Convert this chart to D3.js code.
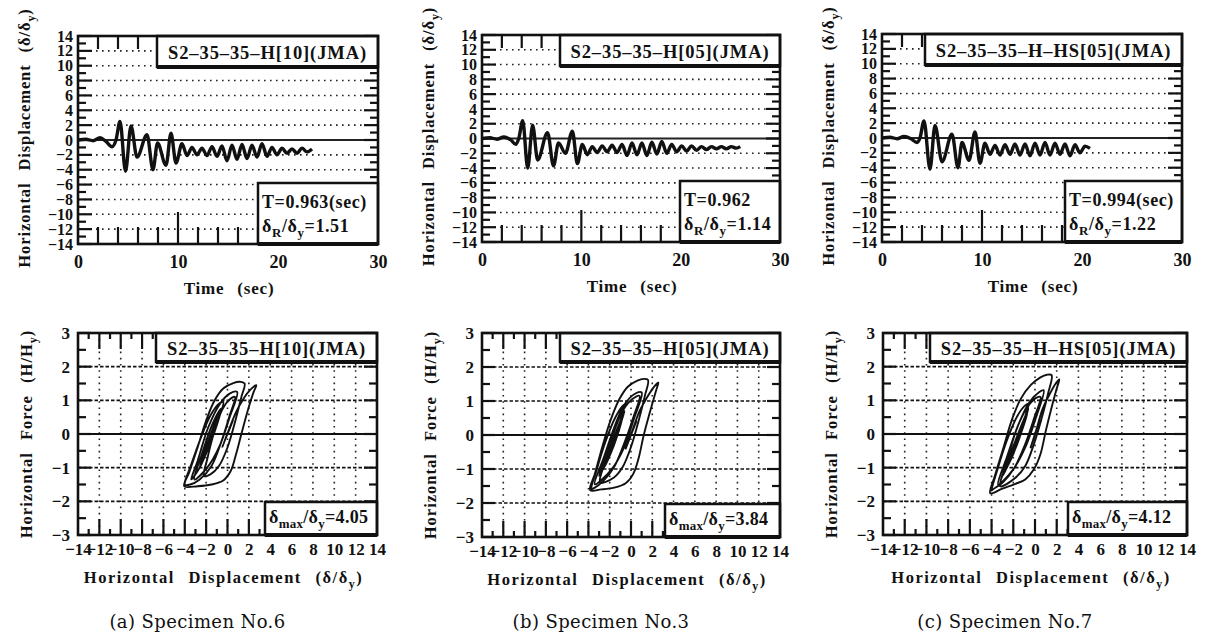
<!DOCTYPE html>
<html>
<head>
<meta charset="utf-8">
<script src="https://d3js.org/d3.v7.min.js"></script>
<style>
body{margin:0;background:#fff;}
svg{display:block;}
text{font-family:"Liberation Serif","Times New Roman",serif;font-weight:bold;fill:#111;}
.cap{font-family:"DejaVu Serif",serif;font-weight:normal;}
</style>
</head>
<body>
<svg width="1207" height="642"></svg>
<script>
// ---- data ----
const specimens = ["(a) Specimen No.6", "(b) Specimen No.3", "(c) Specimen No.7"];
const specimenIds = ["S2\u201335\u201335\u2013H[10](JMA)", "S2\u201335\u201335\u2013H[05](JMA)", "S2\u201335\u201335\u2013H\u2013HS[05](JMA)"];
const periods = ["0.963(sec)", "0.962", "0.994(sec)"];
const residual = ["1.51", "1.14", "1.22"];
const maxDisp = ["4.05", "3.84", "4.12"];

const dispTicks = [-14, -12, -10, -8, -6, -4, -2, 0, 2, 4, 6, 8, 10, 12, 14];
const timeTicks = [0, 10, 20, 30];
const forceTicks = [-3, -2, -1, 0, 1, 2, 3];

// time histories (peaks / troughs)
const timeA = [0, 0.8, 1.5, 2.2, 2.8, 3.4, 3.8, 4.2, 4.75, 5.3, 5.9, 6.9, 7.5, 7.95, 8.8, 9.3, 9.8, 10.4, 10.9, 11.4, 11.9, 12.4, 12.9, 13.4, 13.9, 14.4, 14.9, 15.4, 15.9, 16.4, 16.9, 17.4, 17.9, 18.4, 18.9, 19.4, 19.9, 20.4, 20.9, 21.4, 21.9, 22.4, 22.9, 23.4];
const respA = [0, 0.1, -0.1, 0.3, -0.2, -0.9, 0.0, 2.5, -4.2, 1.9, -2.3, 0.7, -4.0, -0.4, -3.4, 0.9, -3.1, -0.5, -2.1, -1.0, -2.0, -1.1, -2.1, -0.9, -2.2, -0.8, -2.8, -0.7, -2.6, -0.6, -2.5, -0.7, -2.3, -0.5, -2.2, -1.0, -2.0, -1.1, -1.8, -1.2, -1.8, -1.1, -1.6, -1.2];
const timeB = [0, 0.8, 1.5, 2.2, 2.9, 3.4, 3.7, 4.1, 4.6, 5.1, 5.6, 6.6, 7.2, 7.7, 8.4, 9.1, 9.6, 10.1, 10.6, 11.1, 11.6, 12.1, 12.6, 13.1, 13.6, 14.1, 14.6, 15.1, 15.6, 16.1, 16.6, 17.1, 17.6, 18.1, 18.6, 19.1, 19.6, 20.1, 20.6, 21.1, 21.6, 22.1, 22.6, 23.1, 23.6, 24.1, 24.6, 25.1, 25.6, 26.0];
const respB = [0, 0.1, -0.1, 0.2, -0.2, -0.8, 0.0, 2.4, -4.0, 1.8, -2.9, 0.8, -3.7, -0.6, -2.0, 1.0, -3.4, -0.8, -2.2, -1.1, -1.9, -1.0, -1.8, -0.9, -1.9, -0.8, -2.3, -0.6, -2.2, -0.6, -2.3, -0.5, -2.1, -0.4, -2.0, -0.8, -1.8, -1.0, -1.7, -1.0, -1.6, -1.1, -1.5, -1.1, -1.4, -1.1, -1.4, -1.1, -1.3, -1.1];
const timeC = [0, 0.8, 1.5, 2.2, 2.9, 3.5, 3.8, 4.2, 4.8, 5.3, 6.0, 7.0, 7.6, 8.0, 8.7, 9.3, 9.8, 10.3, 10.8, 11.3, 11.8, 12.3, 12.8, 13.3, 13.8, 14.3, 14.8, 15.3, 15.8, 16.3, 16.8, 17.3, 17.8, 18.3, 18.8, 19.3, 19.8, 20.3, 20.8];
const respC = [0, 0.1, -0.1, 0.2, -0.1, -0.6, 0.0, 2.3, -4.2, 1.7, -3.2, 0.5, -4.0, -0.6, -3.0, 0.8, -3.4, -0.7, -2.2, -1.0, -2.3, -0.9, -2.2, -0.8, -2.3, -0.8, -2.4, -0.7, -2.3, -0.6, -2.3, -0.7, -2.2, -0.8, -2.4, -0.9, -2.0, -1.1, -1.4];

// hysteresis traces [displacement, force]
const hystA = [[0,0],[0.5,0.4],[-0.5,-0.4],[0.1,0.1],
  [0.8,0.65],[1.5,1.05],[2.1,1.3],[2.5,1.42],[2.7,1.45],
  [2.45,1.25],[1.9,0.7],[1.3,0.0],[0.8,-0.6],[0.3,-1.1],[-0.4,-1.38],[-1.5,-1.5],[-2.8,-1.55],[-4.05,-1.55],
  [-3.6,-1.15],[-2.8,-0.4],[-2.0,0.4],[-1.2,1.0],[-0.4,1.35],[0.6,1.52],[1.2,1.55],[1.6,1.5],
  [1.3,1.1],[0.7,0.35],[0.0,-0.4],[-0.8,-0.95],[-1.6,-1.2],[-2.2,-1.25],
  [-1.9,-0.75],[-1.3,0.0],[-0.6,0.65],[0.1,1.0],[0.7,1.1],
  [0.2,0.55],[-0.6,-0.25],[-1.5,-0.95],[-2.6,-1.35],[-3.5,-1.5],[-4.0,-1.5],
  [-3.5,-1.0],[-2.6,-0.2],[-1.6,0.55],[-0.8,0.9],[-0.4,0.95],
  [-1.0,0.3],[-1.9,-0.5],[-2.7,-1.05],[-3.4,-1.35],
  [-2.8,-0.8],[-1.8,0.2],[-0.7,0.9],[0.2,1.2],[0.9,1.25],
  [0.2,0.5],[-0.8,-0.4],[-1.9,-1.0],[-3.1,-1.35],
  [-2.4,-0.6],[-1.4,0.3],[-0.6,0.75],
  [-1.4,-0.1],[-2.4,-0.85],
  [-1.6,-0.1],[-0.8,0.55],
  [-1.6,-0.25],[-2.3,-0.75],
  [-1.5,0.0],[-0.9,0.45],
  [-1.7,-0.35],[-2.6,-0.95],[-1.8,-0.2],[-0.7,0.7],
  [-1.5,-0.15],[-2.5,-0.9],[-1.6,-0.05],[-1.0,0.35],
  [-1.8,-0.4],[-2.2,-0.65],[-1.5,-0.1],[-1.1,0.2]];
const hystB = [[0,0],[0.5,0.4],[-0.5,-0.4],[0.1,0.1],
  [0.8,0.7],[1.5,1.1],[2.0,1.35],[2.4,1.5],[2.57,1.54],
  [2.35,1.3],[1.8,0.7],[1.2,0.0],[0.7,-0.7],[0.2,-1.15],[-0.5,-1.42],[-1.6,-1.55],[-2.8,-1.6],[-3.84,-1.62],
  [-3.4,-1.15],[-2.7,-0.35],[-1.9,0.45],[-1.1,1.05],[-0.3,1.42],[0.6,1.6],[1.2,1.65],[1.6,1.62],
  [1.3,1.15],[0.7,0.4],[0.0,-0.35],[-0.8,-0.95],[-1.6,-1.25],[-2.9,-1.4],
  [-2.4,-0.75],[-1.6,0.1],[-0.7,0.75],[0.1,1.05],[0.8,1.15],
  [0.2,0.5],[-0.7,-0.3],[-1.6,-0.95],[-2.6,-1.35],[-3.4,-1.55],[-3.7,-1.58],
  [-3.2,-1.0],[-2.4,-0.2],[-1.5,0.5],[-0.8,0.85],[-0.6,0.9],
  [-1.2,0.2],[-2.0,-0.6],[-2.8,-1.1],[-3.0,-1.2],
  [-2.5,-0.7],[-1.6,0.2],[-0.6,0.9],[0.3,1.2],[1.0,1.25],
  [0.3,0.5],[-0.7,-0.4],[-1.8,-1.0],[-3.4,-1.45],
  [-2.6,-0.7],[-1.5,0.25],[-0.8,0.65],
  [-1.5,-0.1],[-2.2,-0.7],
  [-1.5,-0.05],[-0.9,0.45],
  [-1.6,-0.2],[-2.3,-0.75],
  [-1.5,-0.05],[-0.8,0.5],
  [-1.6,-0.3],[-2.5,-0.95],[-1.7,-0.15],[-0.6,0.7],
  [-1.4,-0.05],[-2.4,-0.85],[-1.5,0.0],[-0.9,0.4],
  [-1.7,-0.35],[-1.9,-0.5],[-1.3,0.0],[-1.1,0.15]];
const hystC = [[0,0],[0.4,0.4],[-0.4,-0.4],[0.1,0.1],
  [0.7,0.75],[1.3,1.15],[1.8,1.45],[2.1,1.58],[2.24,1.62],
  [2.0,1.35],[1.5,0.75],[1.0,0.1],[0.5,-0.6],[-0.1,-1.05],[-0.9,-1.35],[-1.8,-1.48],[-3.0,-1.62],[-4.12,-1.76],
  [-3.7,-1.25],[-2.9,-0.4],[-2.1,0.45],[-1.3,1.05],[-0.4,1.45],[0.5,1.68],[1.1,1.76],[1.53,1.75],
  [1.2,1.2],[0.6,0.45],[-0.1,-0.3],[-0.9,-0.95],[-1.8,-1.3],[-3.2,-1.55],
  [-2.6,-0.85],[-1.8,0.05],[-0.9,0.7],[0.0,1.05],[0.5,1.1],
  [-0.1,0.45],[-0.9,-0.3],[-1.9,-1.0],[-3.0,-1.45],[-3.9,-1.65],[-4.0,-1.68],
  [-3.5,-1.1],[-2.6,-0.2],[-1.6,0.55],[-0.9,0.85],[-0.6,0.9],
  [-1.2,0.2],[-2.0,-0.6],[-2.6,-1.0],[-3.0,-1.25],
  [-2.5,-0.65],[-1.5,0.3],[-0.5,0.95],[0.4,1.25],[0.8,1.3],
  [0.1,0.5],[-0.9,-0.4],[-2.0,-1.05],[-3.4,-1.5],
  [-2.6,-0.7],[-1.5,0.3],[-0.7,0.8],
  [-1.5,-0.1],[-2.3,-0.8],
  [-1.4,0.05],[-0.7,0.6],
  [-1.6,-0.25],[-2.4,-0.85],
  [-1.5,0.0],[-0.8,0.55],
  [-1.7,-0.35],[-2.7,-1.0],[-1.8,-0.2],[-0.6,0.75],
  [-1.5,-0.1],[-2.5,-0.9],[-1.6,-0.05],[-1.0,0.4],
  [-1.8,-0.4],[-2.0,-0.55],[-1.3,0.05],[-1.1,0.2]];

const times = [timeA, timeB, timeC];
const resps = [respA, respB, respC];
const hysts = [hystA, hystB, hystC];

// ---- layout ----
const frameT = [{x0:78,x1:378,y0:36,y1:244},{x0:482,x1:780,y0:35,y1:242},{x0:882,x1:1182,y0:34,y1:242}];
const frameH = [{x0:78,x1:377,y0:333,y1:535},{x0:482,x1:780,y0:333,y1:537},{x0:883,x1:1187,y0:333,y1:535}];
const idBoxW = [221, 220, 257];
const infoBoxW = [120, 100, 117];
const maxBoxW = [112, 115, 119];

const svg = d3.select("svg");
const fmt = d => d < 0 ? "\u2212" + Math.abs(d) : String(d);

// text with sub-scripts: parts = [[str], [str,"sub"], ...]
function rich(sel, parts, size){
    var down = false;
    parts.forEach(function(p){
        var t = sel.append("tspan").text(p[0]);
        if (p[1] === "sub"){
            t.attr("dy", size * 0.28).attr("font-size", size * 0.72);
            down = true;
        } else if (down){
            t.attr("dy", -size * 0.28);
            down = false;
        }
    });
    return sel;
}

function box(g, x, y, w, h){
    g.append("rect").attr("x", x).attr("y", y).attr("width", w).attr("height", h)
        .attr("fill", "#fff").attr("stroke", "#111").attr("stroke-width", 2.5);
    g.append("line").attr("x1", x).attr("x2", x + w).attr("y1", y + h).attr("y2", y + h)
        .attr("stroke", "#111").attr("stroke-width", 4);
}

function styleAxis(a, size){
    a.select(".domain").remove();
    a.attr("font-size", size).attr("font-family", null);
    a.selectAll("text").attr("font-size", size).attr("fill", "#111");
}

function drawTime(i){
    var f = frameT[i];
    var x = d3.scaleLinear().domain([0, 30]).range([f.x0, f.x1]);
    var y = d3.scaleLinear().domain([-14, 14]).range([f.y1, f.y0]);
    var g = svg.append("g");

    // grid
    g.selectAll("line.grid").data(dispTicks.filter(d => Math.abs(d) < 14)).join("line")
        .attr("class", "grid")
        .attr("x1", f.x0).attr("x2", f.x1).attr("y1", d => y(d)).attr("y2", d => y(d))
        .attr("stroke", "#222").attr("stroke-width", d => d === 0 ? 1.8 : 1.6)
        .attr("stroke-dasharray", d => d === 0 ? null : "1.6,4.4");

    // left/right ticks
    var yt = y.ticks(28);
    g.selectAll("line.tl").data(yt).join("line")
        .attr("x1", f.x0).attr("x2", d => f.x0 + (d % 2 === 0 ? 14 : 8))
        .attr("y1", d => y(d)).attr("y2", d => y(d)).attr("stroke", "#111").attr("stroke-width", 2.2);
    g.selectAll("line.tr").data(yt).join("line")
        .attr("x1", f.x1).attr("x2", d => f.x1 - (d % 2 === 0 ? 14 : 8))
        .attr("y1", d => y(d)).attr("y2", d => y(d)).attr("stroke", "#111").attr("stroke-width", 2.2);
    // top/bottom ticks
    var xt = d3.range(2, 30, 2);
    g.selectAll("line.tb").data(xt).join("line")
        .attr("x1", d => x(d)).attr("x2", d => x(d))
        .attr("y1", f.y1).attr("y2", d => f.y1 - (d % 10 === 0 ? 32 : 17))
        .attr("stroke", "#111").attr("stroke-width", 2.2);
    g.selectAll("line.tt").data(xt).join("line")
        .attr("x1", d => x(d)).attr("x2", d => x(d))
        .attr("y1", f.y0).attr("y2", f.y0 + 13)
        .attr("stroke", "#111").attr("stroke-width", 2.2);

    // response
    var line = d3.line().x(d => x(d[0])).y(d => y(d[1])).curve(d3.curveMonotoneX);
    g.append("path").datum(d3.zip(times[i], resps[i])).attr("d", line)
        .attr("fill", "none").attr("stroke", "#111").attr("stroke-width", 3.4).attr("stroke-linejoin", "round");

    // boxes
    box(g, f.x1 - idBoxW[i], f.y0, idBoxW[i], 31);
    g.append("text").attr("x", f.x1 - idBoxW[i] / 2).attr("y", f.y0 + 23)
        .attr("text-anchor", "middle").attr("font-size", 18.5).attr("letter-spacing", 0.9).text(specimenIds[i]);
    box(g, f.x1 - infoBoxW[i], f.y1 - 61, infoBoxW[i], 61);
    g.append("text").attr("x", f.x1 - infoBoxW[i] + 4).attr("y", f.y1 - 36)
        .attr("font-size", 18).attr("letter-spacing", 0.6).text("T=" + periods[i]);
    rich(g.append("text").attr("x", f.x1 - infoBoxW[i] + 4).attr("y", f.y1 - 12)
        .attr("font-size", 18).attr("letter-spacing", 0.6),
        [["\u03b4"], ["R", "sub"], ["/\u03b4"], ["y", "sub"], ["=" + residual[i]]], 18);

    // frame
    g.append("rect").attr("x", f.x0).attr("y", f.y0).attr("width", f.x1 - f.x0).attr("height", f.y1 - f.y0)
        .attr("fill", "none").attr("stroke", "#111").attr("stroke-width", 2.6);

    // axes labels
    var ay = g.append("g").attr("transform", "translate(" + f.x0 + ",0)")
        .call(d3.axisLeft(y).tickValues(dispTicks).tickSize(0).tickPadding(5).tickFormat(fmt));
    styleAxis(ay, 16);
    var ax = g.append("g").attr("transform", "translate(0," + f.y1 + ")")
        .call(d3.axisBottom(x).tickValues(timeTicks).tickSize(0).tickPadding(11));
    styleAxis(ax, 18);

    g.append("text").attr("x", (f.x0 + f.x1) / 2 + 1).attr("y", f.y1 + 50)
        .attr("text-anchor", "middle").attr("font-size", 17).attr("word-spacing", 8).attr("letter-spacing", 0.8)
        .text("Time (sec)");
    rich(g.append("text").attr("transform", "translate(" + (f.x0 - 48) + "," + ((f.y0 + f.y1) / 2 - 2) + ") rotate(-90)")
        .attr("text-anchor", "middle").attr("font-size", 16.5).attr("letter-spacing", 0.9).attr("word-spacing", 7),
        [["Horizontal Displacement (\u03b4/\u03b4"], ["y", "sub"], [")"]], 16.5);
}

function drawHyst(i){
    var f = frameH[i];
    var x = d3.scaleLinear().domain([-14, 14]).range([f.x0, f.x1]);
    var y = d3.scaleLinear().domain([-3, 3]).range([f.y1, f.y0]);
    var g = svg.append("g");

    // grid
    g.selectAll("line.vg").data(dispTicks.filter(d => Math.abs(d) < 14)).join("line")
        .attr("x1", d => x(d)).attr("x2", d => x(d)).attr("y1", f.y0).attr("y2", f.y1)
        .attr("stroke", "#222").attr("stroke-width", 1.6).attr("stroke-dasharray", "1.6,4.6");
    g.selectAll("line.hg").data(forceTicks.filter(d => Math.abs(d) < 3)).join("line")
        .attr("x1", f.x0).attr("x2", f.x1).attr("y1", d => y(d)).attr("y2", d => y(d))
        .attr("stroke", "#111").attr("stroke-width", d => d === 0 ? 1.8 : 1.7)
        .attr("stroke-dasharray", d => d === 0 ? null : "3.5,2");

    // ticks
    var yt = y.ticks(12);
    g.selectAll("line.tl").data(yt).join("line")
        .attr("x1", f.x0).attr("x2", d => f.x0 + (Number.isInteger(d) ? 13 : 8))
        .attr("y1", d => y(d)).attr("y2", d => y(d)).attr("stroke", "#111").attr("stroke-width", 2.2);
    g.selectAll("line.tr").data(yt).join("line")
        .attr("x1", f.x1).attr("x2", d => f.x1 - (Number.isInteger(d) ? 13 : 8))
        .attr("y1", d => y(d)).attr("y2", d => y(d)).attr("stroke", "#111").attr("stroke-width", 2.2);
    var xt = x.ticks(28).filter(d => Math.abs(d) < 14);
    g.selectAll("line.tb").data(xt).join("line")
        .attr("x1", d => x(d)).attr("x2", d => x(d))
        .attr("y1", f.y1).attr("y2", d => f.y1 - (d % 2 === 0 ? 16 : 6))
        .attr("stroke", "#111").attr("stroke-width", 2.2);
    g.selectAll("line.tt").data(xt).join("line")
        .attr("x1", d => x(d)).attr("x2", d => x(d))
        .attr("y1", f.y0).attr("y2", d => f.y0 + (d % 2 === 0 ? 16 : 6))
        .attr("stroke", "#111").attr("stroke-width", 2.2);

    // hysteresis
    var line = d3.line().x(d => x(d[0])).y(d => y(d[1])).curve(d3.curveCatmullRom.alpha(0.5));
    g.append("path").datum(hysts[i]).attr("d", line)
        .attr("fill", "none").attr("stroke", "#111").attr("stroke-width", 1.9).attr("stroke-linejoin", "round");

    // boxes
    box(g, f.x1 - idBoxW[i], f.y0, idBoxW[i], 29);
    g.append("text").attr("x", f.x1 - idBoxW[i] / 2).attr("y", f.y0 + 22)
        .attr("text-anchor", "middle").attr("font-size", 18.5).attr("letter-spacing", 0.9).text(specimenIds[i]);
    box(g, f.x1 - maxBoxW[i], f.y1 - 33, maxBoxW[i], 33);
    rich(g.append("text").attr("x", f.x1 - maxBoxW[i] + 4).attr("y", f.y1 - 12)
        .attr("font-size", 18).attr("letter-spacing", 0.3),
        [["\u03b4"], ["max", "sub"], ["/\u03b4"], ["y", "sub"], ["=" + maxDisp[i]]], 18);

    // frame
    g.append("rect").attr("x", f.x0).attr("y", f.y0).attr("width", f.x1 - f.x0).attr("height", f.y1 - f.y0)
        .attr("fill", "none").attr("stroke", "#111").attr("stroke-width", 2.6);

    var ay = g.append("g").attr("transform", "translate(" + f.x0 + ",0)")
        .call(d3.axisLeft(y).tickValues(forceTicks).tickSize(0).tickPadding(8).tickFormat(fmt));
    styleAxis(ay, 17);
    var ax = g.append("g").attr("transform", "translate(0," + f.y1 + ")")
        .call(d3.axisBottom(x).tickValues(dispTicks).tickSize(0).tickPadding(8).tickFormat(fmt));
    styleAxis(ax, 17);

    rich(g.append("text").attr("x", (f.x0 + f.x1) / 2 - 4).attr("y", f.y1 + 48)
        .attr("text-anchor", "middle").attr("font-size", 16.5).attr("letter-spacing", 1.5).attr("word-spacing", 8),
        [["Horizontal Displacement (\u03b4/\u03b4"], ["y", "sub"], [")"]], 16.5);
    rich(g.append("text").attr("transform", "translate(" + (f.x0 - 46) + "," + ((f.y0 + f.y1) / 2) + ") rotate(-90)")
        .attr("text-anchor", "middle").attr("font-size", 16.5).attr("letter-spacing", 1.0).attr("word-spacing", 7),
        [["Horizontal Force (H/H"], ["y", "sub"], [")"]], 16.5);

    svg.append("text").attr("class", "cap").attr("x", (f.x0 + f.x1) / 2 - 30).attr("y", 628)
        .attr("text-anchor", "middle").attr("font-size", 18).attr("letter-spacing", 0.4)
        .text(specimens[i]);
}

for (var i = 0; i < 3; i++){
    drawTime(i);
    drawHyst(i);
}
</script>
</body>
</html>
